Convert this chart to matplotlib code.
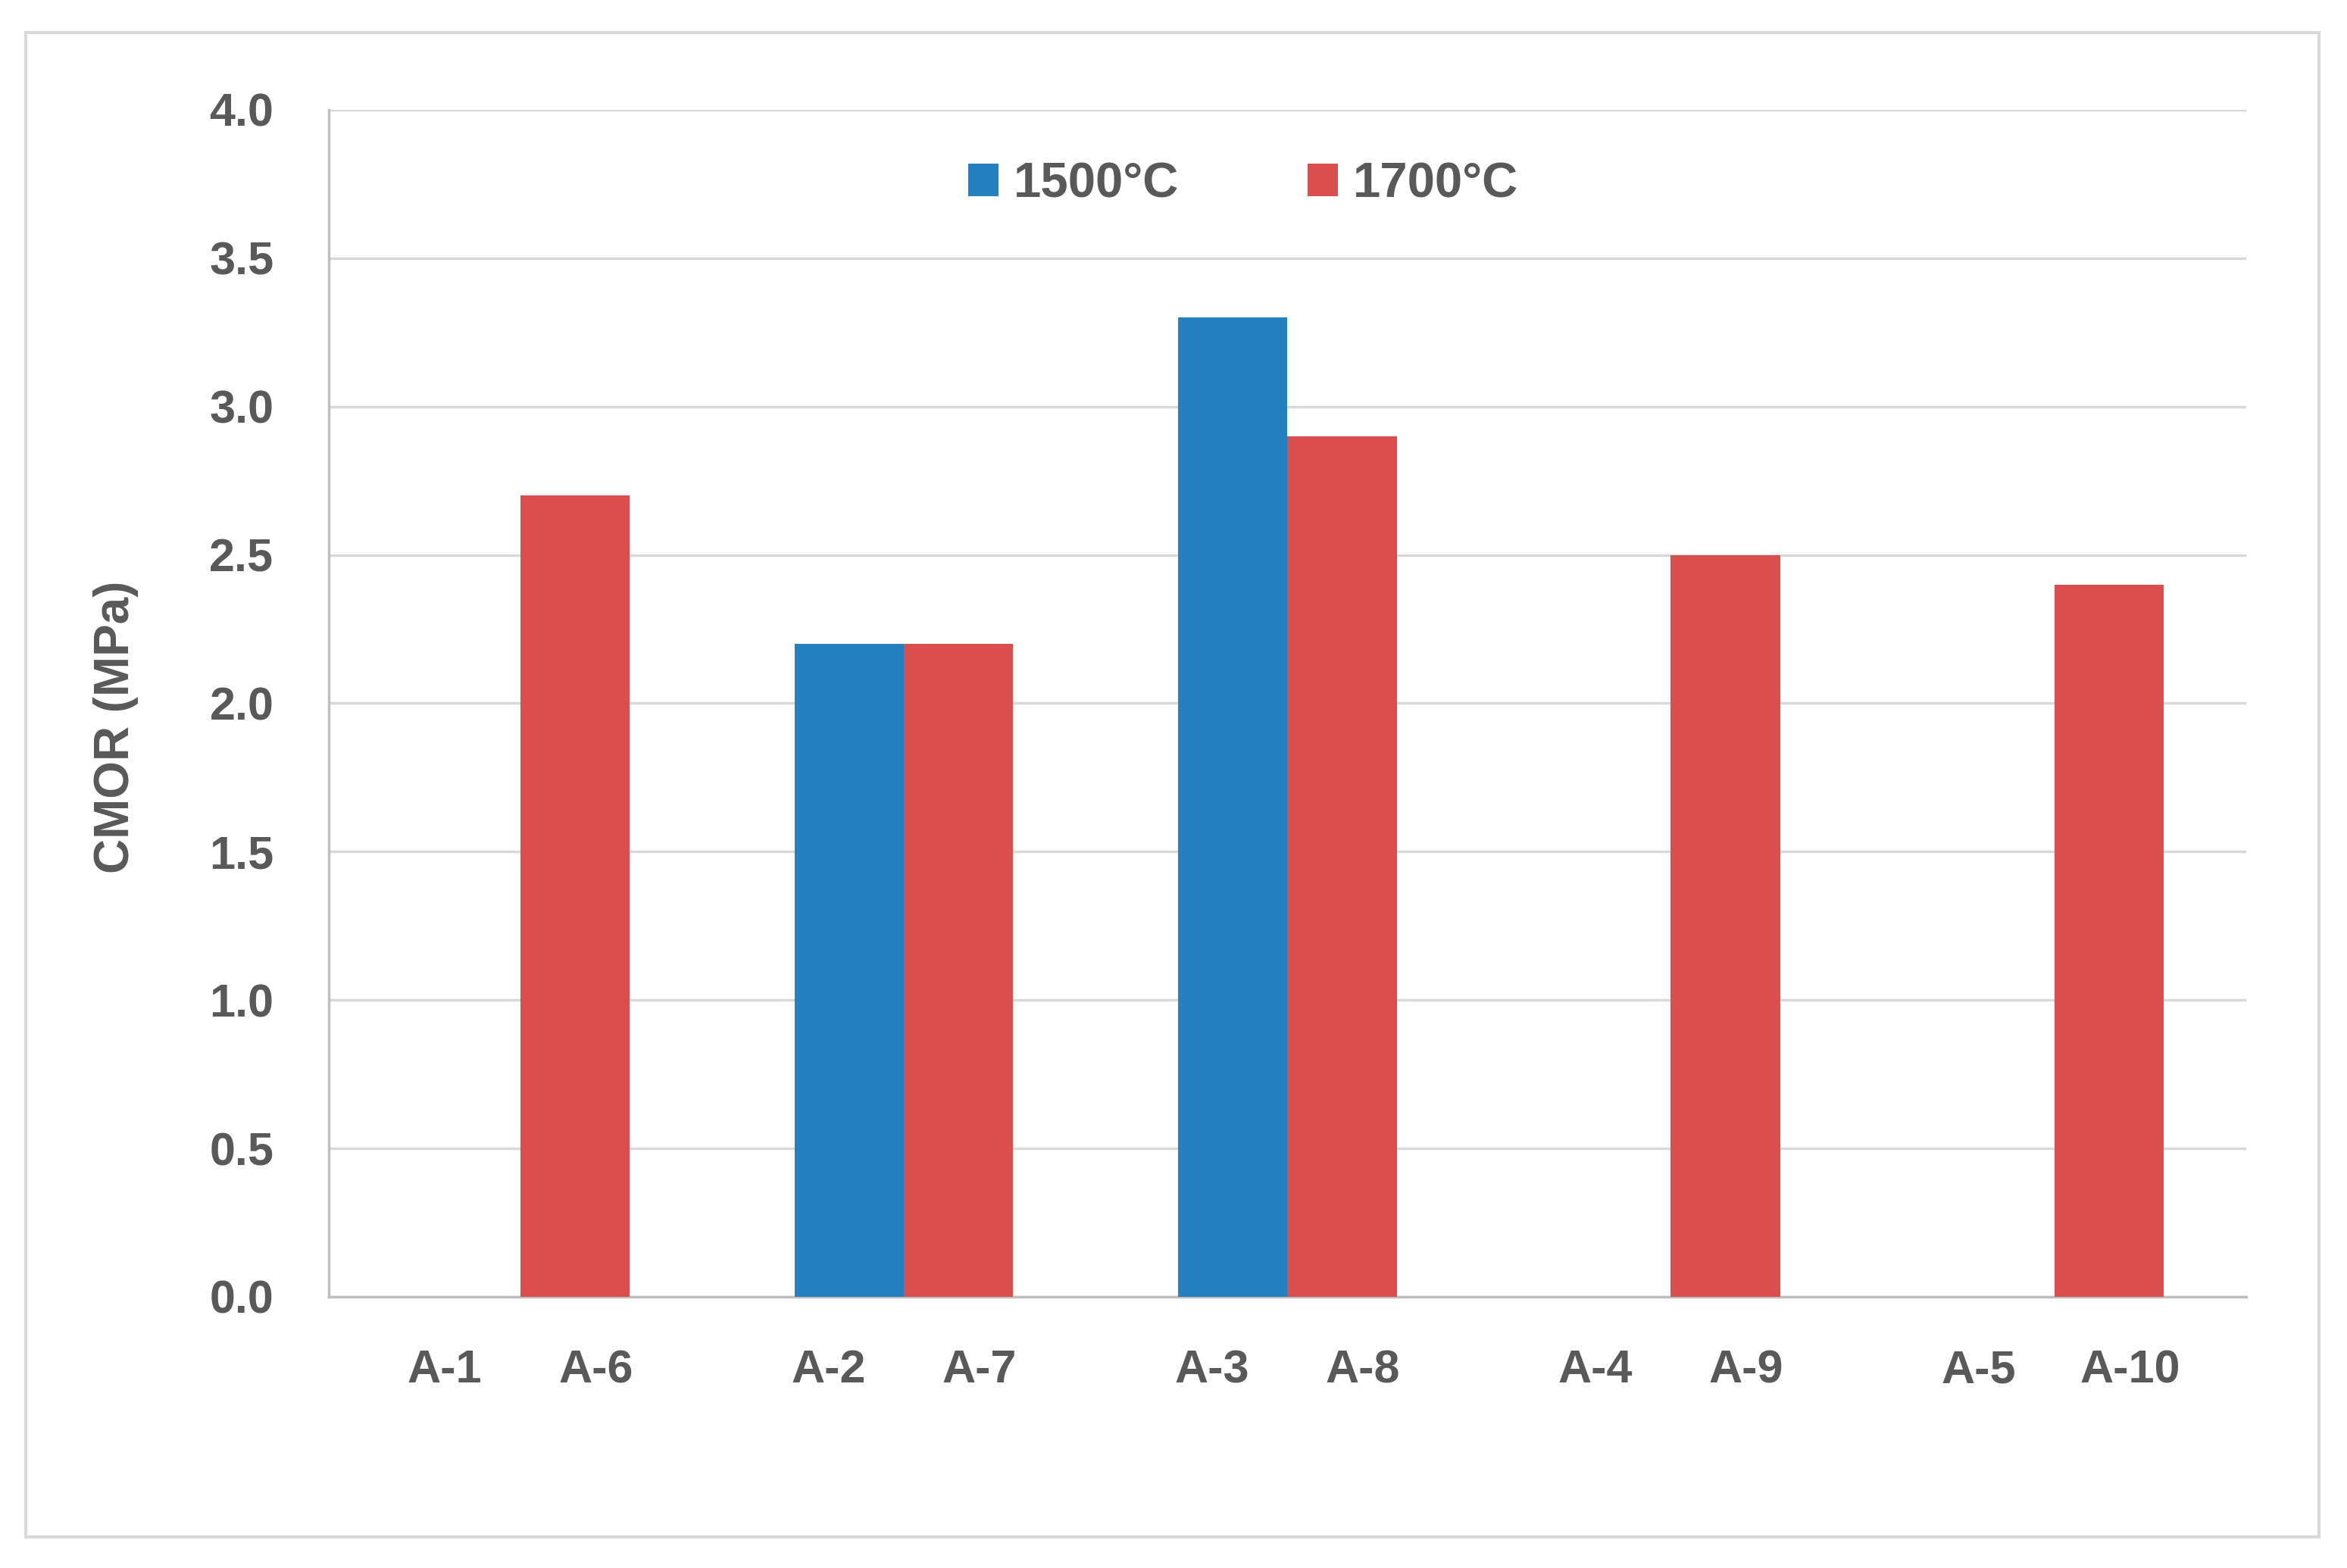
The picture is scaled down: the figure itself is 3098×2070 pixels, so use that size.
import matplotlib
matplotlib.use("Agg")
import matplotlib.pyplot as plt
import numpy as np
from matplotlib.patches import Rectangle

# data
lo_labels = ["A-1", "A-2", "A-3", "A-4", "A-5"]
hi_labels = ["A-6", "A-7", "A-8", "A-9", "A-10"]
cmor_1500 = [0.0, 2.2, 3.3, 0.0, 0.0]
cmor_1700 = [2.7, 2.2, 2.9, 2.5, 2.4]

BLUE = "#2580C1"
RED = "#DA4F4D"
TEXT = "#595959"

plt.rcParams["font.family"] = ["Liberation Sans", "DejaVu Sans"]

fig = plt.figure(figsize=(30.98, 20.70), dpi=100)
ax = fig.add_axes([0.140, 0.173, 0.817, 0.757])

x = np.arange(len(lo_labels))
w = 0.285
ax.bar(x - w / 2, cmor_1500, width=w, color=BLUE, label="1500\u00b0C", zorder=3)
ax.bar(x + w / 2, cmor_1700, width=w, color=RED, label="1700\u00b0C", zorder=3)

ax.set_xlim(-0.5, len(lo_labels) - 0.5)
ax.set_ylim(0, 4.0)
yt = np.arange(0, 4.01, 0.5)
ax.set_yticks(yt)
ax.set_yticklabels([f"{v:.1f}" for v in yt])

# each sample name sits under its own half of the group
ax.set_xticks(np.concatenate([x - 0.197, x + 0.197]))
ax.set_xticklabels(lo_labels + hi_labels)

ax.tick_params(axis="both", length=0, labelsize=44, colors=TEXT)
ax.tick_params(axis="x", pad=50)
ax.tick_params(axis="y", pad=52)
for lab in ax.get_xticklabels() + ax.get_yticklabels():
    lab.set_fontweight("bold")

ax.grid(axis="y", color="#D9D9D9", linewidth=2.5, zorder=0)
for s in ("top", "right"):
    ax.spines[s].set_visible(False)
ax.spines["left"].set_color("#BFBFBF")
ax.spines["bottom"].set_color("#BFBFBF")
ax.spines["left"].set_linewidth(2.5)
ax.spines["bottom"].set_linewidth(2.5)

ax.set_ylabel("CMOR (MPa)", fontsize=46, fontweight="bold", color=TEXT)
ax.yaxis.set_label_coords(-0.099, 0.48)

leg = ax.legend(loc="center", bbox_to_anchor=(0.477, 0.937), ncol=2, frameon=False,
                fontsize=47, handlelength=0.62, handleheight=0.62, handletextpad=0.3,
                columnspacing=2.6)
for t in leg.get_texts():
    t.set_color(TEXT)
    t.set_fontweight("bold")

# light frame round the whole chart
fig.patches.append(Rectangle((0.011, 0.020), 0.977, 0.959, transform=fig.transFigure,
                             fill=False, edgecolor="#D9D9D9", linewidth=3))

fig.savefig("out.png", dpi=100, facecolor="white")
